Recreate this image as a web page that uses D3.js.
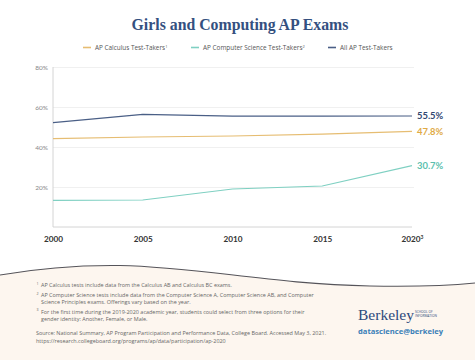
<!DOCTYPE html>
<html><head><meta charset="utf-8">
<script src="https://cdn.jsdelivr.net/npm/d3@7"></script>
<style>body{margin:0;background:#fff}svg{display:block}</style>
</head><body><svg id="c" width="475" height="360"></svg>
<script>
const years = [2000, 2005, 2010, 2015, 2020];
const calculus = [44.2, 45.0, 45.5, 46.4, 47.8];
const compSci = [13.3, 13.5, 19.0, 20.5, 30.7];
const allAP = [52.2, 56.3, 55.4, 55.4, 55.5];
const seriesNames = ["AP Calculus Test-Takers", "AP Computer Science Test-Takers", "All AP Test-Takers"];
const seriesSup = ["1", "2", ""];
const yTicks = [20, 40, 60, 80];
const xTickLabels = ["2000", "2005", "2010", "2015", "2020"];
const footnotes = [
  ["1", ["AP Calculus tests include data from the Calculus AB and Calculus BC exams."]],
  ["2", ["AP Computer Science tests include data from the Computer Science A, Computer Science AB, and Computer", "Science Principles exams. Offerings vary based on the year."]],
  ["3", ["For the first time during the 2019-2020 academic year, students could select from three options for their", "gender identity: Another, Female, or Male."]]
];
const sourceLines = ["Source: National Summary, AP Program Participation and Performance Data, College Board. Accessed May 3, 2021.",
  "https://research.collegeboard.org/programs/ap/data/participation/ap-2020"];

const colors = ["#e6bd72", "#7fd0c2", "#4a5f86"];
const labelColors = ["#e0aa45", "#5dbfae", "#2f4670"];
const data = [calculus, compSci, allAP];

const svg = d3.select("#c");
// bottom cream wave
const wave = "M0,275 C40,268 80,265 120,265.5 C200,267 270,284 370,286 C420,287 455,285 475,283";
svg.append("path").attr("d", wave + " L475,360 L0,360 Z").attr("fill", "#fdf6ef");
svg.append("path").attr("d", wave).attr("fill", "none").attr("stroke", "#55545a").attr("stroke-width", 1.1);

const x = d3.scaleLinear().domain([2000, 2020]).range([53, 412]);
const y = d3.scaleLinear().domain([0, 80]).range([227, 67]);

// title
svg.append("text").attr("x", 240).attr("y", 29.5).attr("text-anchor", "middle")
  .attr("font-family", "Liberation Serif, serif").attr("font-weight", "bold").attr("font-size", 15.8)
  .attr("fill", "#34507f").text("Girls and Computing AP Exams");

// legend
const legX = [83, 191, 328];
seriesNames.forEach((n, i) => {
  svg.append("line").attr("x1", legX[i]).attr("x2", legX[i] + 8).attr("y1", 47.5).attr("y2", 47.5)
    .attr("stroke", colors[i]).attr("stroke-width", 1.6);
  const t = svg.append("text").attr("x", legX[i] + 12).attr("y", 50)
    .attr("font-family", "Open Sans, sans-serif").attr("font-size", 6.4).attr("fill", "#555").text(n);
  if (seriesSup[i]) t.append("tspan").attr("font-size", 4).attr("dy", -2.5).text(seriesSup[i]);
});

// gridlines
const grid = svg.append("g").attr("transform", "translate(53,0)")
  .call(d3.axisLeft(y).tickValues(yTicks).tickSize(-361).tickFormat(d => d + "%"));
grid.select(".domain").remove();
grid.selectAll(".tick line").attr("stroke", "#ececec").attr("stroke-width", 0.8);
grid.selectAll(".tick text").attr("x", -5).attr("font-family", "Lato, sans-serif").attr("font-size", 6.5).attr("fill", "#888");

// axis lines
svg.append("line").attr("x1", 53).attr("x2", 53).attr("y1", 67).attr("y2", 227).attr("stroke", "#cfcfcf").attr("stroke-width", 0.9);
svg.append("line").attr("x1", 53).attr("x2", 412).attr("y1", 227).attr("y2", 227).attr("stroke", "#cfcfcf").attr("stroke-width", 0.9);

// x axis labels
const xa = svg.append("g").attr("transform", "translate(0,227)")
  .call(d3.axisBottom(x).tickValues(years).tickSize(0).tickPadding(9).tickFormat((d, i) => xTickLabels[i]));
xa.select(".domain").remove();
xa.selectAll(".tick text").attr("font-family", "Lato, sans-serif").attr("font-weight", "bold")
  .attr("font-size", 8.2).attr("fill", "#333");
xa.selectAll(".tick").filter(d => d === 2020).select("text").append("tspan")
  .attr("font-size", 5).attr("dy", -3).text("3");

// lines
const line = d3.line().x((d, i) => x(years[i])).y(d => y(d));
[1, 0, 2].forEach(i => {
  svg.append("path").datum(data[i]).attr("d", line).attr("fill", "none")
    .attr("stroke", colors[i]).attr("stroke-width", 1.2);
});

// end labels
data.forEach((s, i) => {
  svg.append("text").attr("x", 417).attr("y", y(s[s.length - 1]) + 3.2)
    .attr("font-family", "Lato, sans-serif").attr("font-weight", "bold").attr("font-size", 9.4)
    .attr("fill", labelColors[i]).text(s[s.length - 1].toFixed(1) + "%");
});

// footnotes
const fy = [285, 295, 302, 311.5, 318.5];
let li = 0;
footnotes.forEach(([sup, lines]) => {
  svg.append("text").attr("x", 36.5).attr("y", fy[li] - 0.3).attr("font-family", "Open Sans, sans-serif")
    .attr("font-size", 3.6).attr("fill", "#666").text(sup);
  lines.forEach(l => {
    svg.append("text").attr("x", 41).attr("y", fy[li] + 2).attr("font-family", "Open Sans, sans-serif")
      .attr("font-size", 5.45).attr("fill", "#666").text(l);
    li++;
  });
});
const sy = [332.5, 341];
sourceLines.forEach((l, i) => {
  svg.append("text").attr("x", 36).attr("y", sy[i] + 2).attr("font-family", "Open Sans, sans-serif")
    .attr("font-size", 5.45).attr("fill", "#666").text(l);
});

// logo
svg.append("text").attr("x", 358).attr("y", 320).attr("font-family", "Liberation Serif, serif")
  .attr("font-size", 15.5).attr("fill", "#2d4a7c").text("Berkeley");
svg.append("text").attr("x", 415).attr("y", 312.5).attr("font-family", "Open Sans, sans-serif")
  .attr("font-size", 3.2).attr("fill", "#2d4a7c").text("SCHOOL OF");
svg.append("text").attr("x", 415).attr("y", 317).attr("font-family", "Open Sans, sans-serif")
  .attr("font-size", 3.2).attr("fill", "#2d4a7c").text("INFORMATION");
svg.append("text").attr("x", 358).attr("y", 333.5).attr("font-family", "Open Sans, sans-serif")
  .attr("font-weight", "bold").attr("font-size", 7.6).attr("fill", "#3b7fb8").text("datascience@berkeley");
</script></body></html>
